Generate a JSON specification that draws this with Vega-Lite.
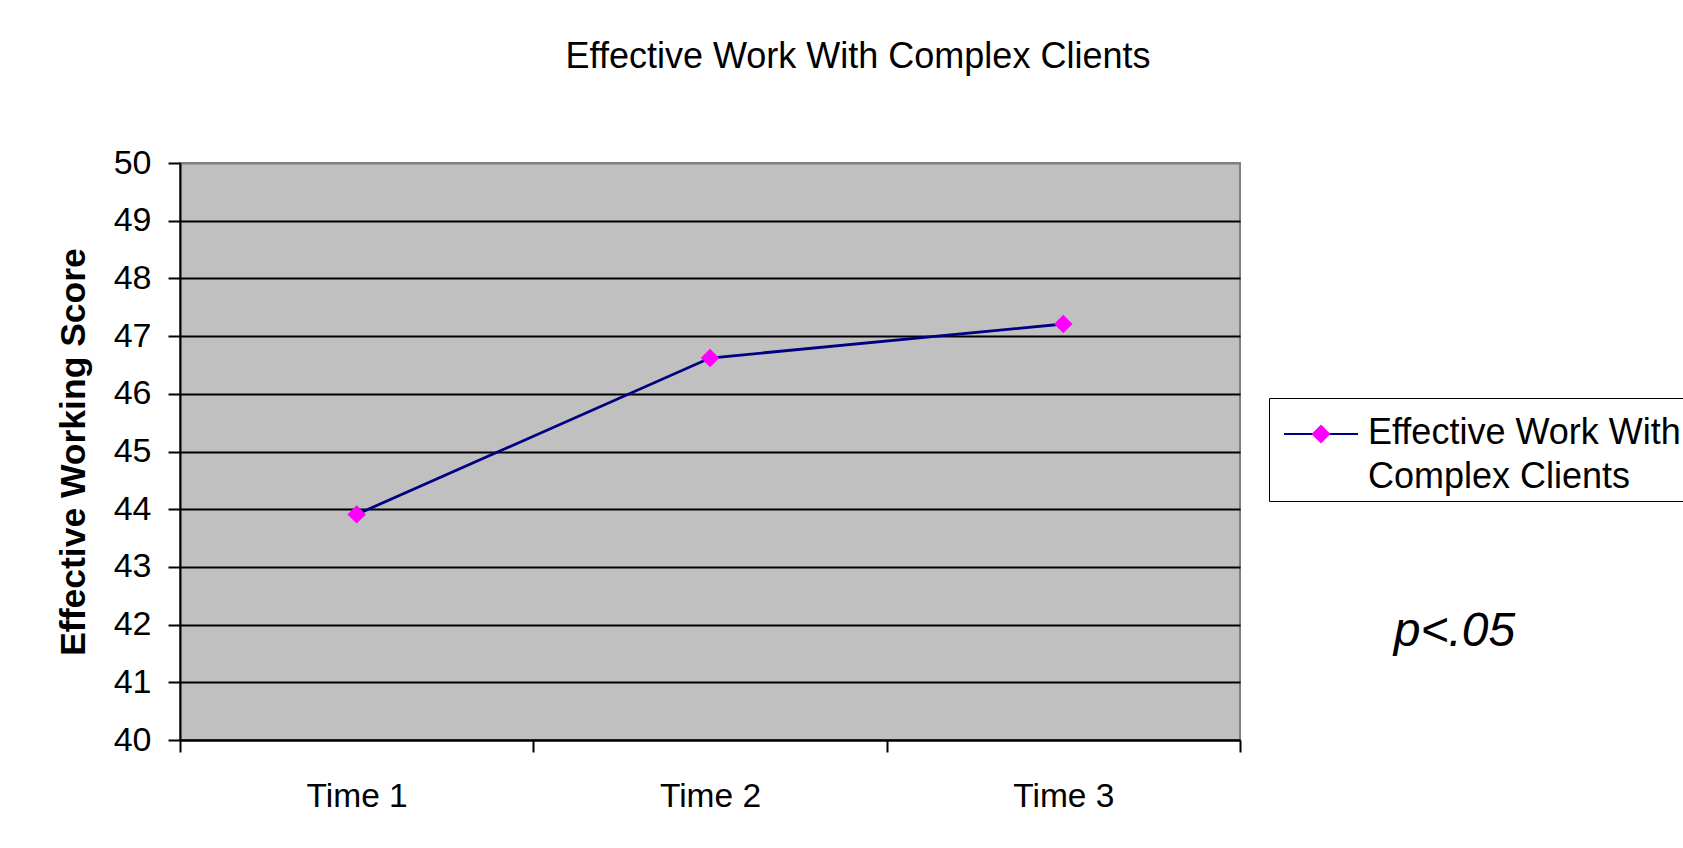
{
  "$schema": "https://vega.github.io/schema/vega-lite/v6.json",
  "width": 1060,
  "height": 577,
  "autosize": {"type": "none"},
  "padding": {"left": 180, "top": 163, "right": 443, "bottom": 108},
  "background": "white",
  "title": {
    "text": "Effective Work With Complex Clients",
    "anchor": "middle",
    "frame": "group",
    "dx": 148,
    "offset": 42,
    "baseline": "alphabetic",
    "font": "Liberation Sans",
    "fontSize": 36,
    "fontWeight": "normal",
    "color": "black"
  },
  "data": {
    "values": [
      {"time": "Time 1", "score": 43.91, "series": "Effective Work With Complex Clients", "marker": "Effective Work With Complex Clients"},
      {"time": "Time 2", "score": 46.62, "series": "Effective Work With Complex Clients", "marker": "Effective Work With Complex Clients"},
      {"time": "Time 3", "score": 47.21, "series": "Effective Work With Complex Clients", "marker": "Effective Work With Complex Clients"}
    ]
  },
  "layer": [
    {
      "mark": {"type": "line", "strokeWidth": 2.8},
      "encoding": {
        "x": {
          "field": "time",
          "type": "ordinal",
          "scale": {"type": "band", "paddingInner": 0, "paddingOuter": 0},
          "axis": {
            "orient": "bottom",
            "title": null,
            "labelAngle": 0,
            "labelFontSize": 33.5,
            "labelPadding": 28,
            "tickBand": "extent",
            "grid": false,
            "domain": true
          }
        },
        "y": {
          "field": "score",
          "type": "quantitative",
          "scale": {"domain": [40, 50], "nice": false, "zero": false},
          "axis": {
            "orient": "left",
            "title": "Effective Working Score",
            "titleFontSize": 35.5,
            "titleFontWeight": "bold",
            "titlePadding": 22,
            "labelFontSize": 34,
            "labelPadding": 17,
            "values": [40, 41, 42, 43, 44, 45, 46, 47, 48, 49, 50],
            "grid": true,
            "gridColor": {"condition": {"test": "datum.value === 50", "value": "#808080"}, "value": "black"},
            "gridWidth": 2,
            "gridOpacity": 1
          }
        },
        "color": {
          "field": "series",
          "type": "nominal",
          "scale": {"range": ["#000080"]},
          "legend": {
            "orient": "none",
            "legendX": 1089,
            "legendY": 235,
            "title": null,
            "zindex": 0,
            "symbolType": "M-0.176,1.059H4.176M0,4.76M25.3,0",
            "symbolSize": 1156,
            "symbolStrokeWidth": 2,
            "labelExpr": "['Effective Work With', 'Complex Clients']",
            "labelFont": "Liberation Sans",
            "labelFontSize": 36,
            "labelBaseline": "top",
            "labelOffset": 63,
            "labelLimit": 1000,
            "labelOpacity": 0,
            "padding": 0,
            "fillColor": "white",
            "strokeColor": "black",
            "encoding": {"labels": {"lineHeight": {"value": 44}}}
          }
        }
      }
    },
    {
      "mark": {"type": "point", "shape": "diamond", "filled": true, "size": 340, "opacity": 1, "strokeWidth": 0},
      "encoding": {
        "x": {"field": "time", "type": "ordinal"},
        "y": {
          "field": "score",
          "type": "quantitative",
          "axis": {
            "orient": "right",
            "title": "p<.05",
            "titleFont": "Liberation Sans",
            "titleFontSize": 48,
            "titleFontStyle": "italic",
            "titleFontWeight": "normal",
            "titleAngle": 0,
            "titleAlign": "center",
            "titleBaseline": "alphabetic",
            "titleX": 214,
            "titleY": 482,
            "labels": false,
            "ticks": false,
            "domain": false,
            "grid": false
          }
        },
        "fill": {
          "field": "marker",
          "type": "nominal",
          "scale": {"range": ["#FF00FF"]},
          "legend": {
            "orient": "none",
            "legendX": 1089,
            "legendY": 235,
            "title": null,
            "zindex": 1,
            "symbolType": "M2,0.5L2.559,1.059L2,1.618L1.441,1.059Z",
            "symbolSize": 1156,
            "symbolStrokeWidth": 2,
            "symbolStrokeColor": "transparent",
            "labelExpr": "['Effective Work With', 'Complex Clients']",
            "labelFont": "Liberation Sans",
            "labelFontSize": 36,
            "labelBaseline": "top",
            "labelOffset": 63,
            "labelLimit": 1000,
            "labelColor": "black",
            "padding": 0,
            "encoding": {"labels": {"lineHeight": {"value": 44}}}
          }
        }
      }
    }
  ],
  "resolve": {"axis": {"y": "independent"}},
  "config": {
    "view": {"fill": "#C0C0C0", "stroke": "#808080", "strokeWidth": 2},
    "axis": {
      "labelFont": "Liberation Sans",
      "titleFont": "Liberation Sans",
      "labelColor": "black",
      "titleColor": "black",
      "tickColor": "black",
      "domainColor": "black",
      "tickWidth": 2,
      "domainWidth": 2,
      "tickSize": 12
    }
  }
}
